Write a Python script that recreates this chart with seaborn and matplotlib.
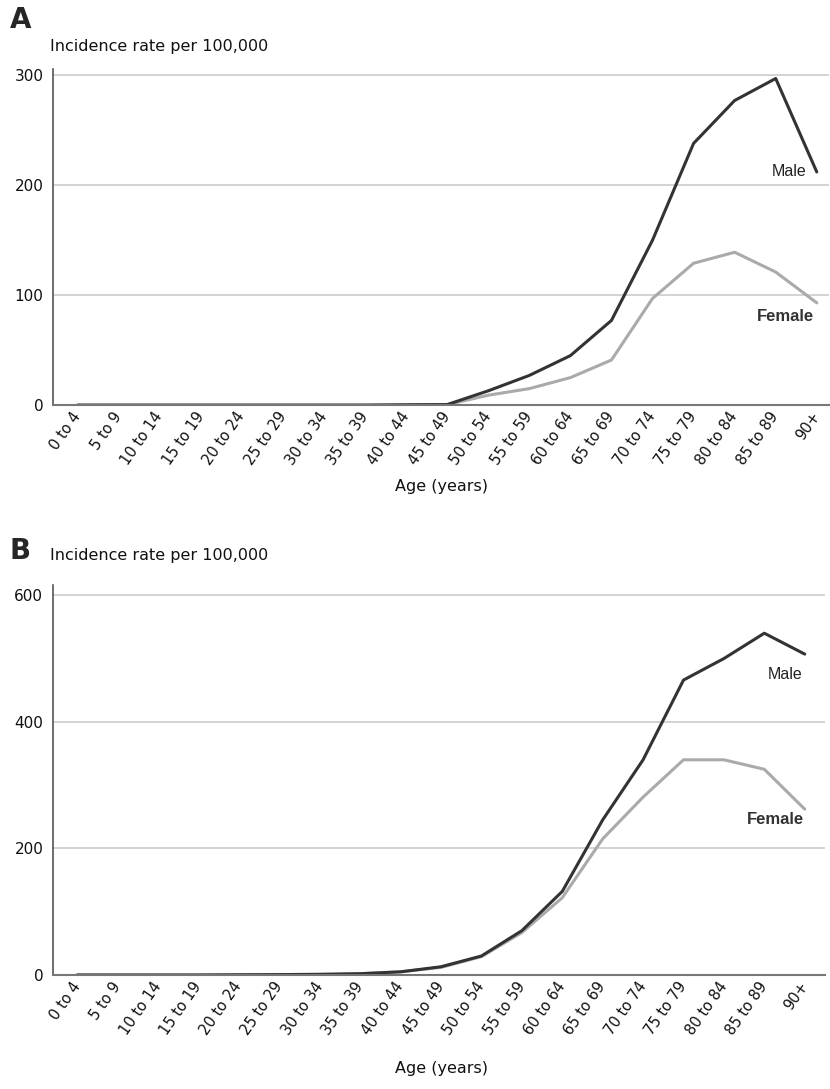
import pandas as pd
import seaborn as sns
import matplotlib.pyplot as plt

age_groups = ['0 to 4', '5 to 9', '10 to 14', '15 to 19', '20 to 24',
              '25 to 29', '30 to 34', '35 to 39', '40 to 44', '45 to 49',
              '50 to 54', '55 to 59', '60 to 64', '65 to 69', '70 to 74',
              '75 to 79', '80 to 84', '85 to 89', '90+']

# panel A (incidence rate per 100,000)
male_a = [0, 0, 0, 0, 0, 0, 0, 0, 0.3, 0.5,
          13, 27, 45, 77, 150, 238, 277, 297, 212]
female_a = [0, 0, 0, 0, 0, 0, 0, 0, 0.2, 0.4,
            9, 15, 25, 41, 97, 129, 139, 121, 93]

# panel B (incidence rate per 100,000)
male_b = [0, 0, 0, 0, 0.3, 0.6, 1, 2, 5, 13,
          30, 70, 132, 245, 340, 466, 500, 540, 507]
female_b = [0, 0, 0, 0, 0.3, 0.6, 1, 2, 5, 12,
            29, 67, 122, 215, 281, 340, 340, 325, 262]

yticks_a = [0, 100, 200, 300]
yticks_b = [0, 200, 400, 600]

MALE_COL = '#333333'
FEMALE_COL = '#aaaaaa'


def make_frame(male, female):
    return pd.DataFrame({
        'age': age_groups * 2,
        'rate': male + female,
        'sex': ['Male'] * len(male) + ['Female'] * len(female),
    })


def draw_panel(ax, df, yticks, ylim, xlim, male_pos, female_pos):
    sns.lineplot(data=df, x='age', y='rate', hue='sex', sort=False,
                 palette={'Male': MALE_COL, 'Female': FEMALE_COL},
                 hue_order=['Female', 'Male'],
                 linewidth=2.2, legend=False, ax=ax)
    ax.set_ylim(*ylim)
    ax.set_xlim(*xlim)
    ax.set_yticks(yticks)
    ax.set_xlabel('')
    ax.set_ylabel('')
    ax.grid(axis='y', color='#cccccc', linewidth=1.2)
    ax.grid(axis='x', visible=False)
    ax.set_axisbelow(True)
    for s in ['top', 'right']:
        ax.spines[s].set_visible(False)
    ax.spines['left'].set_color('#555555')
    ax.spines['bottom'].set_color('#777777')
    ax.spines['left'].set_linewidth(1.2)
    ax.spines['bottom'].set_linewidth(1.5)
    ax.tick_params(axis='both', length=0, labelsize=10.5, colors='#111111')
    ax.tick_params(axis='y', labelsize=11, pad=7)
    ax.tick_params(axis='x', pad=6)
    for lab in ax.get_xticklabels():
        lab.set_rotation(55)
        lab.set_ha('right')
        lab.set_va('center')
        lab.set_rotation_mode('anchor')
    ax.text(male_pos[0], male_pos[1], 'Male', ha='right', va='center',
            fontsize=11.5, color='#222222', family='Liberation Sans')
    ax.text(female_pos[0], female_pos[1], 'Female', ha='right', va='center',
            fontsize=12, fontweight='bold', color='#333333',
            family='Liberation Sans')


sns.set_style('white')
plt.rcParams['font.family'] = ['DejaVu Sans']

fig = plt.figure(figsize=(8.3, 10.89), dpi=100)
ax_a = fig.add_axes([0.0639, 0.628, 0.935, 0.309])
ax_b = fig.add_axes([0.0639, 0.1047, 0.930, 0.358])

draw_panel(ax_a, make_frame(male_a, female_a), yticks_a, (0, 306),
           (-0.6, 18.3), (17.75, 212), (17.93, 81))
draw_panel(ax_b, make_frame(male_b, female_b), yticks_b, (0, 616),
           (-0.6, 18.5), (17.95, 474), (17.97, 246))

fig.text(0.012, 0.982, 'A', fontsize=20, fontweight='heavy', va='center')
fig.text(0.012, 0.494, 'B', fontsize=20, fontweight='heavy', va='center')
fig.text(0.060, 0.957, 'Incidence rate per 100,000', fontsize=11.5,
         va='center', color='#111111')
fig.text(0.060, 0.490, 'Incidence rate per 100,000', fontsize=11.5,
         va='center', color='#111111')
fig.text(0.532, 0.553, 'Age (years)', fontsize=11.5, ha='center',
         va='center', color='#111111')
fig.text(0.532, 0.019, 'Age (years)', fontsize=11.5, ha='center',
         va='center', color='#111111')

fig.savefig('out.png', dpi=100)
